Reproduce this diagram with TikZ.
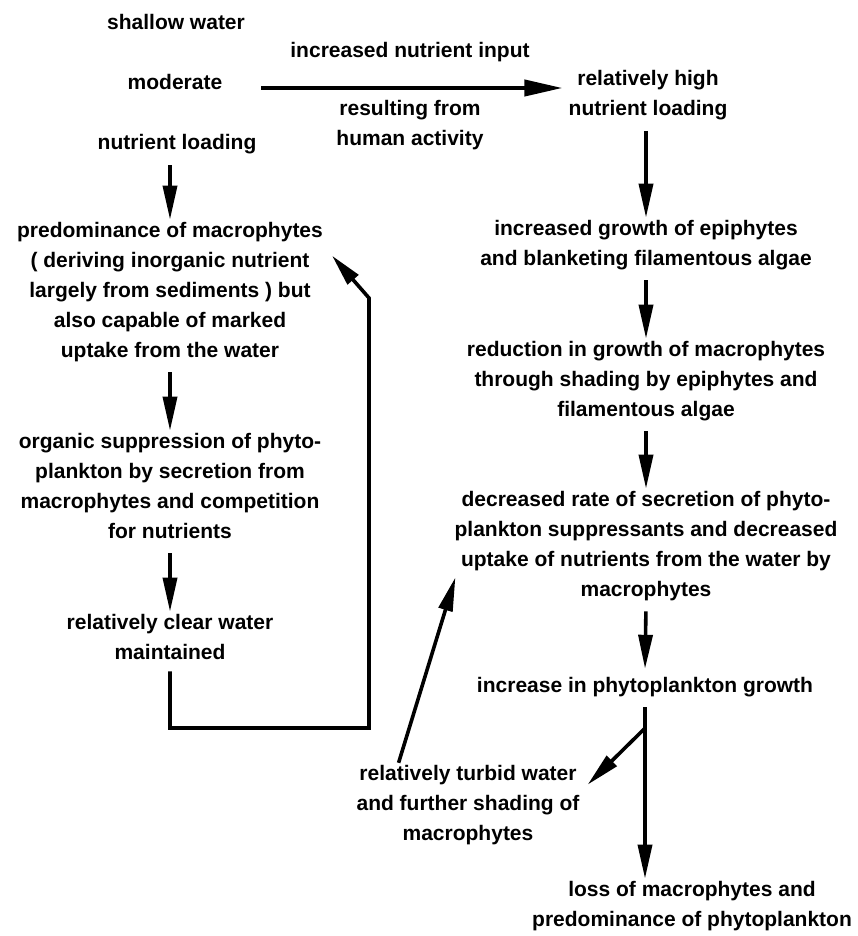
\documentclass[tikz,border=0pt]{standalone}
\usepackage{fontspec}
\setmainfont{Liberation Sans}
\usepackage{tikz}
\usetikzlibrary{arrows.meta,positioning,calc}

\begin{document}
\begin{tikzpicture}[x=1pt, y=-1pt,
    txt/.style={font=\bfseries\fontsize{21}{30}\selectfont, align=center, inner sep=0pt,
        execute at begin node=\strut, execute at end node=\strut},
    flow/.style={line width=3.6pt, -{Triangle[length=34pt,width=14pt]}, shorten <=6pt, shorten >=2pt},
    backline/.style={line width=3.6pt, line join=miter, -{Triangle[length=32pt,width=14pt]}}]
\path[fill=white, use as bounding box] (0,0) rectangle (858,936);
% left column
\node[txt] (sw) at (176,24) {shallow water};
\node[txt] (mod) at (175,84) {moderate};
\node[txt] (nl) at (177,144) {nutrient loading};
\node[txt] (pm) at (170,294) {predominance of macrophytes\\( deriving inorganic nutrient\\largely from sediments ) but\\also capable of marked\\uptake from the water};
\node[txt] (os) at (170,490) {organic suppression of phyto-\\plankton by secretion from\\macrophytes and competition\\for nutrients};
\node[txt] (cw) at (170,641) {relatively clear water\\maintained};
% increased input
\node[txt] (inc) at (410,52) {increased nutrient input};
\node[txt] (res) at (410,127.5) {resulting from\\human activity};
% right column
\node[txt] (rh) at (648,97.5) {relatively high\\nutrient loading};
\node[txt] (ig) at (646,247) {increased growth of epiphytes\\and blanketing filamentous algae};
\node[txt] (rg) at (646,383) {reduction in growth of macrophytes\\through shading by epiphytes and\\filamentous algae};
\node[txt] (dr) at (646,548) {decreased rate of secretion of phyto-\\plankton suppressants and decreased\\uptake of nutrients from the water by\\macrophytes};
\node[txt] (ip) at (645,686) {increase in phytoplankton growth};
\node[txt] (tw) at (468,807) {relatively turbid water\\and further shading of\\macrophytes};
\node[txt] (lm) at (692,908) {loss of macrophytes and\\predominance of phytoplankton};
\coordinate (br) at ([shift={(0,27)}]ip.south);
\coordinate (lpR) at (369,728);
\coordinate (lpT) at (369,298);

% arrows
\draw[flow, line width=4pt, -{Triangle[length=38pt,width=16pt]}, shorten <=0pt, shorten >=0pt]
    ([shift={(39,4)}]mod.east) -- ([shift={(-6,-9.5)}]rh.west);
\draw[flow] (nl.south -| pm.north) -- (pm.north);
\draw[flow] (pm.south) -- (os.north);
\draw[flow] (os.south) -- (cw.north);
\draw[backline] ([shift={(0,3)}]cw.south) -- (cw.south |- lpR) -- (lpR) -- (lpT)
    -- ([shift={(9,34)}]pm.north east);
\draw[flow] (rh.south -| ig.north) -- (ig.north);
\draw[flow] (ig.south) -- (rg.north);
\draw[flow] (rg.south) -- (dr.north);
\draw[flow] (dr.south) -- (ip.north);
\draw[flow] (ip.south) -- (ip.south |- lm.north);
\draw[flow, shorten <=0pt, shorten >=0pt] (br) -- ([shift={(8,20)}]tw.north east);
\draw[flow, shorten <=2pt, shorten >=0pt] ([xshift=-70pt]tw.north) -- ([shift={(1,-28)}]dr.south west);
\end{tikzpicture}
\end{document}
